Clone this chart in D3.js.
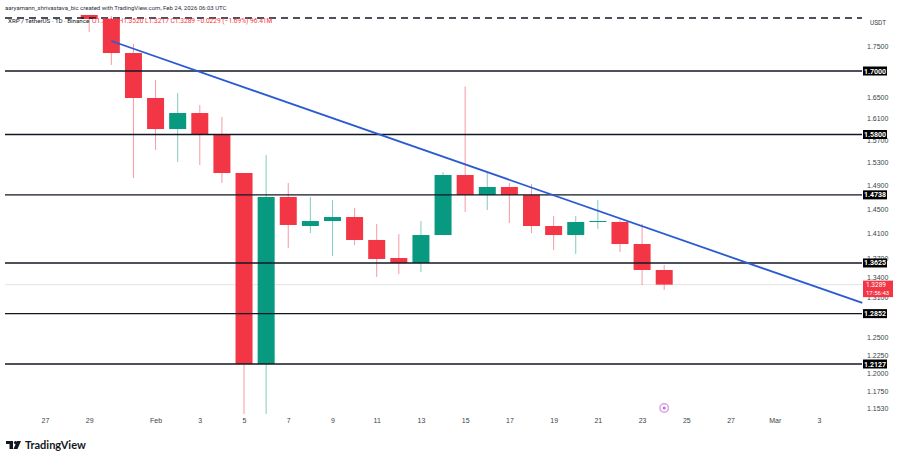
<!DOCTYPE html>
<html>
<head>
<meta charset="utf-8">
<title>XRP / TetherUS</title>
<script src="https://cdn.jsdelivr.net/npm/d3@7"></script>
<style>
  html, body { margin: 0; padding: 0; background: #fff; }
  svg { display: block; font-family: Roboto, sans-serif; }
  .axis text { fill: #3b3f4a; font-size: 7px; }
  .axis path, .axis line { display: none; }
</style>
</head>
<body>
<svg id="chart" width="900" height="460"></svg>
<script>
// daily candles
var days = ["2026-01-29","2026-01-30","2026-01-31","2026-02-01","2026-02-02","2026-02-03","2026-02-04","2026-02-05","2026-02-06","2026-02-07","2026-02-08","2026-02-09","2026-02-10","2026-02-11","2026-02-12","2026-02-13","2026-02-14","2026-02-15","2026-02-16","2026-02-17","2026-02-18","2026-02-19","2026-02-20","2026-02-21","2026-02-22","2026-02-23","2026-02-24"];
var opens  = [1.8134,1.8051,1.7356,1.6479,1.5900,1.6196,1.5791,1.5114,1.2127,1.4702,1.4218,1.4300,1.4366,1.3991,1.3703,1.3625,1.4071,1.5079,1.4735,1.4872,1.4735,1.4218,1.4071,1.4284,1.4284,1.3926,1.3515];
var closes = [1.8051,1.7356,1.6479,1.5900,1.6196,1.5791,1.5114,1.2127,1.4702,1.4235,1.4300,1.4366,1.3991,1.3688,1.3625,1.4071,1.5079,1.4735,1.4872,1.4735,1.4218,1.4071,1.4284,1.4300,1.3926,1.3515,1.3289];
var highs  = [1.8134,1.8113,1.7538,1.6824,1.6574,1.6347,1.6122,1.5114,1.5431,1.4941,1.4702,1.4651,1.4516,1.4251,1.4088,1.4300,1.5132,1.6700,1.5132,1.4941,1.4923,1.4383,1.4383,1.4651,1.4317,1.4251,1.3593];
var lows   = [1.7782,1.7118,1.5027,1.5520,1.5307,1.5254,1.4941,1.1448,1.1448,1.3862,1.4104,1.3735,1.3910,1.3407,1.3453,1.3484,1.4071,1.4450,1.4483,1.4267,1.4104,1.3830,1.3767,1.4169,1.3798,1.3283,1.3207];

var levels = [1.7, 1.58, 1.4738, 1.3625, 1.2852, 1.2127];
var priceTicks = [1.75, 1.65, 1.61, 1.57, 1.53, 1.49, 1.45, 1.41, 1.37, 1.34, 1.31, 1.25, 1.225, 1.2, 1.175, 1.153];
var dateTicks = ["2026-01-27","2026-01-29","2026-02-01","2026-02-03","2026-02-05","2026-02-07","2026-02-09","2026-02-11","2026-02-13","2026-02-15","2026-02-17","2026-02-19","2026-02-21","2026-02-23","2026-02-25","2026-02-27","2026-03-01","2026-03-03"];
var trendDays = ["2026-01-30", "2026-03-04T23:00"];
var trendPrices = [1.7598, 1.3011];
var lastPrice = 1.3289;
var topDash = 1.8071;

var red = "#f23645", green = "#089981";
var svg = d3.select("#chart");
var parse = function(s) { return new Date(s.length > 10 ? s + "Z" : s + "T00:00Z"); };

var x = d3.scaleUtc().domain([parse("2026-01-27"), parse("2026-03-03")]).range([45, 819]);
var y = d3.scaleLog().domain([1.2127, 1.7]).range([364, 71]);
var plotL = 5, plotR = 862;

var candles = days.map(function(d, i) {
  return { date: parse(d), o: opens[i], c: closes[i], h: highs[i], l: lows[i] };
});

// last price line goes under everything
svg.append("line").attr("x1", plotL).attr("x2", plotR)
  .attr("y1", y(lastPrice)).attr("y2", y(lastPrice))
  .attr("stroke", "#e4e4e6").attr("stroke-width", 1);

// wicks
svg.selectAll(".wick").data(candles).enter().append("line")
  .attr("class", "wick")
  .attr("x1", function(d) { return x(d.date); })
  .attr("x2", function(d) { return x(d.date); })
  .attr("y1", function(d) { return y(d.h); })
  .attr("y2", function(d) { return y(d.l); })
  .attr("stroke", function(d) { return d.c >= d.o ? green : red; })
  .attr("stroke-opacity", 0.5)
  .attr("stroke-width", 1);

// bodies
var bodyW = 17;
svg.selectAll(".body").data(candles).enter().append("rect")
  .attr("class", "body")
  .attr("x", function(d) { return x(d.date) - bodyW / 2; })
  .attr("width", bodyW)
  .attr("y", function(d) { return y(Math.max(d.o, d.c)); })
  .attr("height", function(d) { return Math.max(1, Math.abs(y(d.o) - y(d.c))); })
  .attr("fill", function(d) { return d.c >= d.o ? green : red; });

// horizontal levels
svg.selectAll(".level").data(levels).enter().append("line")
  .attr("class", "level")
  .attr("x1", plotL).attr("x2", plotR)
  .attr("y1", function(d) { return y(d); })
  .attr("y2", function(d) { return y(d); })
  .attr("stroke", "#131722").attr("stroke-width", 1.4);

// dashed line along the top
svg.append("line").attr("x1", plotL).attr("x2", plotR)
  .attr("y1", y(topDash)).attr("y2", y(topDash))
  .attr("stroke", "#131722").attr("stroke-width", 1.4)
  .attr("stroke-dasharray", "7,5");

// trend line
var trend = d3.line()
  .x(function(d) { return x(parse(d[0])); })
  .y(function(d) { return y(d[1]); });
svg.append("path")
  .datum(d3.zip(trendDays, trendPrices))
  .attr("d", trend)
  .attr("fill", "none")
  .attr("stroke", "#2a5bd0")
  .attr("stroke-width", 1.8);

// axes
svg.append("g").attr("class", "axis")
  .attr("transform", "translate(863,0)")
  .call(d3.axisRight(y).tickValues(priceTicks).tickSize(0).tickPadding(4).tickFormat(d3.format(".4f")));

svg.append("g").attr("class", "axis")
  .attr("transform", "translate(0,418)")
  .call(d3.axisBottom(x).tickValues(dateTicks.map(parse)).tickSize(0).tickPadding(0)
    .tickFormat(function(d) {
      if (d.getUTCDate() == 1) return d3.utcFormat("%b")(d);
      return d.getUTCDate();
    }));

svg.append("text").attr("x", 870).attr("y", 25)
  .attr("font-size", 6.5).attr("fill", "#3b3f4a").text("USDT");

// level tags
var tags = svg.selectAll(".tag").data(levels).enter().append("g")
  .attr("class", "tag")
  .attr("transform", function(d) { return "translate(863," + y(d) + ")"; });
tags.append("rect").attr("x", 0).attr("y", -4.5).attr("width", 24).attr("height", 9).attr("fill", "#000");
tags.append("text").attr("x", 12).attr("y", 2.5).attr("text-anchor", "middle")
  .attr("font-size", 7).attr("font-weight", 700).attr("fill", "#fff")
  .text(d3.format(".4f"));

// last price tag
var lastTag = svg.append("g").attr("transform", "translate(863," + y(lastPrice) + ")");
lastTag.append("rect").attr("x", 0).attr("y", -4).attr("width", 30).attr("height", 16.5).attr("fill", red);
lastTag.append("text").attr("x", 3).attr("y", 2.5).attr("font-size", 6.5).attr("fill", "#fff")
  .text(d3.format(".4f")(lastPrice));
lastTag.append("text").attr("x", 3).attr("y", 10).attr("font-size", 6).attr("fill", "#fff").text("17:56:43");

// header
svg.append("text").attr("x", 5).attr("y", 10).attr("font-size", 6).attr("fill", "#2a2e39")
  .text("aaryamann_shrivastava_bic created with TradingView.com, Feb 24, 2026 06:03 UTC");
svg.append("text").attr("x", 8).attr("y", 23).attr("font-size", 6.2).attr("fill", "#131722")
  .text("XRP / TetherUS · 1D · Binance");
svg.append("text").attr("x", 92).attr("y", 23).attr("font-size", 6.6).attr("fill", red)
  .text("O1.3517 H1.3520 L1.3217 C1.3289 −0.0229 (−1.69%) 96.41M");

// watermark
var logo = svg.append("g").attr("transform", "translate(6,441)").attr("fill", "#131722");
logo.append("path").attr("d", "M0 0H7V8H3.5V3H0Z M11 0H15L11.5 8H7.5Z");
logo.append("circle").attr("cx", 9.5).attr("cy", 1.6).attr("r", 1.6);
svg.append("text").attr("x", 25).attr("y", 449)
  .attr("font-family", "Lato, sans-serif").attr("font-size", 11).attr("font-weight", 700)
  .attr("fill", "#131722").text("TradingView");

// small event marker above the last candle's date
var mark = svg.append("g").attr("transform", "translate(" + x(parse("2026-02-24")) + ",408)");
mark.append("circle").attr("r", 4.2).attr("fill", "none").attr("stroke", "#d9a3e6").attr("stroke-width", 1.5);
mark.append("circle").attr("r", 1.5).attr("fill", "#c46fd8");
</script>
</body>
</html>
